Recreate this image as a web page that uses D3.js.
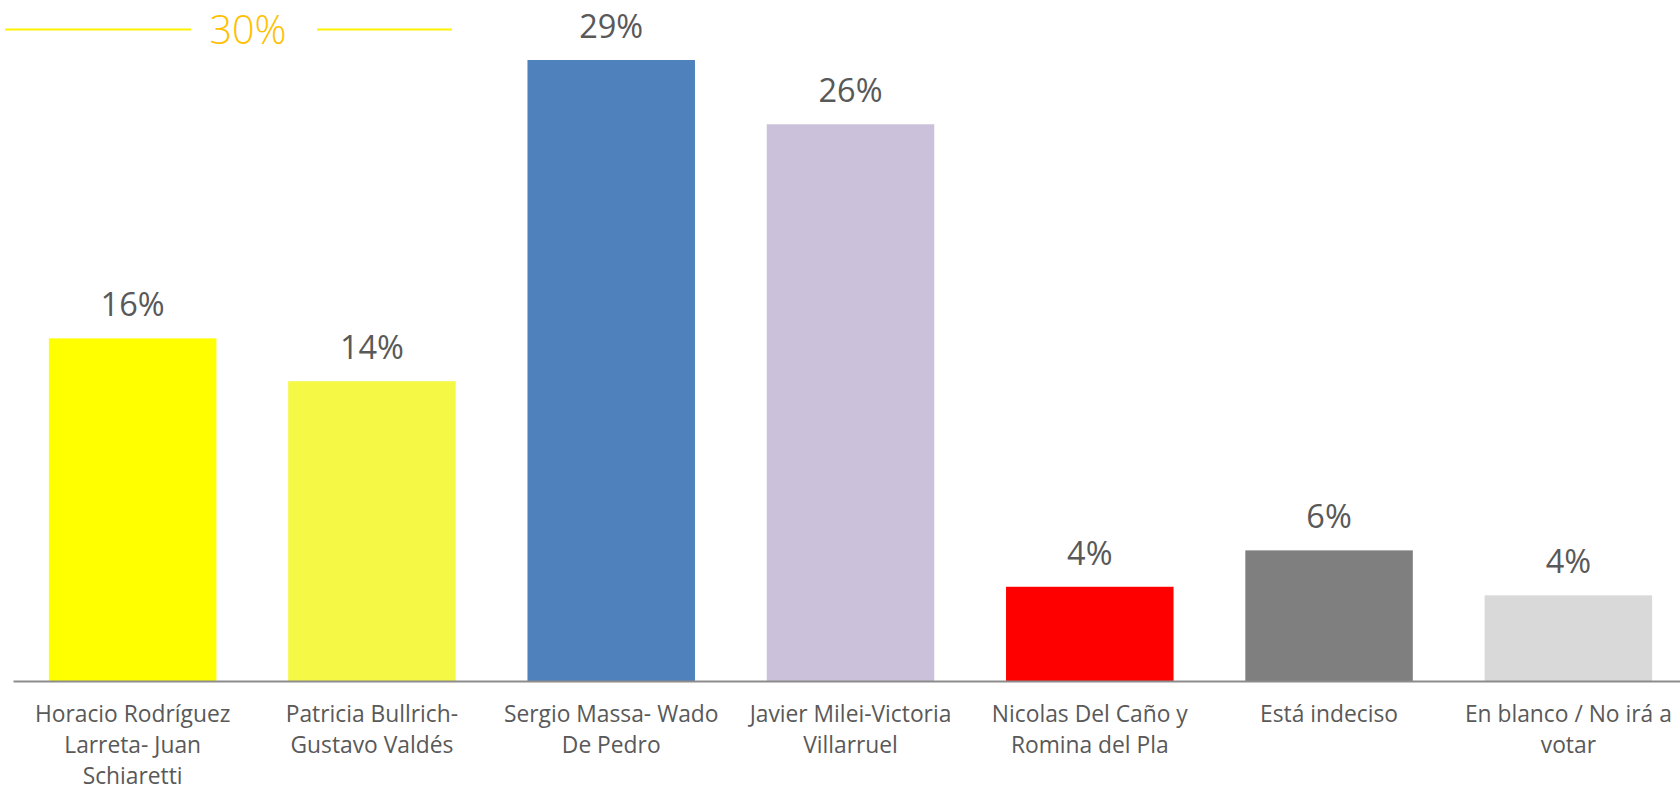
<!DOCTYPE html>
<html>
<head>
<meta charset="utf-8">
<script src="https://cdn.jsdelivr.net/npm/d3@7"></script>
<style>
    html, body { margin: 0; padding: 0; background: #ffffff; }
    #chart { width: 1680px; height: 791px; }
    .cat_label { font-family: "Open Sans", Lato, sans-serif; font-size: 22.8px; fill: #595959; }
    .val_label { font-family: "Open Sans", Lato, sans-serif; font-size: 32.5px; fill: #595959; }
    .head_label { font-family: "Open Sans", Lato, sans-serif; font-weight: 300; font-size: 39.5px; fill: #FFC000; }
</style>
</head>
<body>
<div id="chart"></div>
<script>
// ------------------------------------------------------------------
// Data
// ------------------------------------------------------------------
var categories = [
    ["Horacio Rodríguez", "Larreta- Juan", "Schiaretti"],
    ["Patricia Bullrich-", "Gustavo Valdés"],
    ["Sergio Massa- Wado", "De Pedro"],
    ["Javier Milei-Victoria", "Villarruel"],
    ["Nicolas Del Caño y", "Romina del Pla"],
    ["Está indeciso"],
    ["En blanco / No irá a", "votar"]
];
var values = [16, 14, 29, 26, 4.4, 6.1, 4.0];
var valueLabels = ["16%", "14%", "29%", "26%", "4%", "6%", "4%"];
var barColors = ["#FFFF00", "#F5F845", "#4F81BD", "#CCC1DA", "#FF0000", "#7F7F7F", "#D9D9D9"];
var headerLabel = "30%";

// ------------------------------------------------------------------
// Layout
// ------------------------------------------------------------------
var WIDTH = 1680, HEIGHT = 791;
var PLOT_LEFT = 13, PLOT_RIGHT = 1688;
var BASE_Y = 681, TOP_Y = 60;

var svg = d3.select("#chart")
    .append("svg")
    .attr("width", WIDTH)
    .attr("height", HEIGHT);

var x = d3.scaleBand()
    .domain(d3.range(categories.length))
    .range([PLOT_LEFT, PLOT_RIGHT])
    .paddingInner(0.3)
    .paddingOuter(0.15);

var y = d3.scaleLinear()
    .domain([0, d3.max(values)])
    .range([BASE_Y, TOP_Y]);

// Bars
//_______________
svg.append("g")
    .selectAll("rect")
    .data(values)
    .join("rect")
    .attr("x", function(d, i) { return x(i); })
    .attr("y", function(d) { return y(d); })
    .attr("width", x.bandwidth())
    .attr("height", function(d) { return y(0) - y(d); })
    .attr("fill", function(d, i) { return barColors[i]; });

// Value labels
//_______________
svg.append("g")
    .selectAll("text")
    .data(values)
    .join("text")
    .attr("class", "val_label")
    .attr("text-anchor", "middle")
    .attr("x", function(d, i) { return x(i) + x.bandwidth() / 2; })
    .attr("y", function(d) { return y(d) - 22; })
    .text(function(d, i) { return valueLabels[i]; });

// X axis
//_______________
var xAxis = svg.append("g")
    .attr("transform", "translate(0," + BASE_Y + ")")
    .call(d3.axisBottom(x).tickSize(0).tickSizeOuter(0).tickFormat(""));

xAxis.select(".domain")
    .attr("stroke", "#8C8C8C")
    .attr("stroke-width", 2);

xAxis.selectAll(".tick text").remove();

xAxis.selectAll(".tick")
    .append("text")
    .attr("class", "cat_label")
    .attr("text-anchor", "middle")
    .attr("fill", "#595959")
    .each(function(d) {
        var t = d3.select(this);
        categories[d].forEach(function(line, li) {
            t.append("tspan")
                .attr("x", 0)
                .attr("y", 41 + li * 31)
                .text(line);
        });
    });

// Header (30%)
//_______________
svg.append("line")
    .attr("x1", 5).attr("x2", 191)
    .attr("y1", 29.5).attr("y2", 29.5)
    .attr("stroke", "#FFF200").attr("stroke-width", 2);

svg.append("line")
    .attr("x1", 317).attr("x2", 452)
    .attr("y1", 29.5).attr("y2", 29.5)
    .attr("stroke", "#FFF200").attr("stroke-width", 2);

svg.append("text")
    .attr("class", "head_label")
    .attr("text-anchor", "middle")
    .attr("x", 248)
    .attr("y", 43.5)
    .text(headerLabel);
</script>
</body>
</html>
